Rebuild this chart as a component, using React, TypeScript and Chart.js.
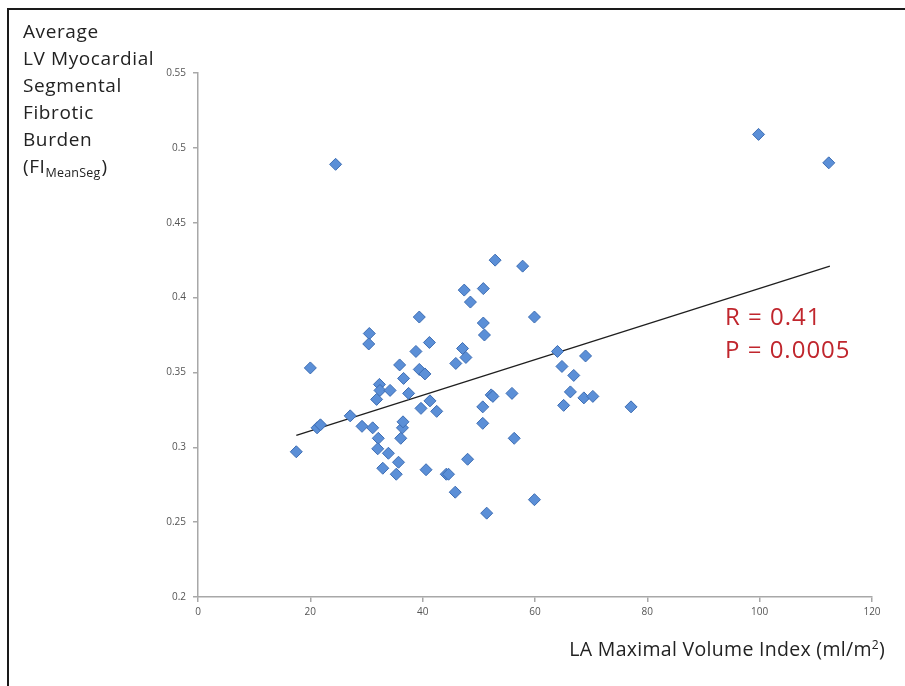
import React, { useEffect, useRef } from "react";
import { Chart, registerables } from "chart.js";

Chart.register(...registerables);

// ---- data ----
const xValues = [
  17.5, 20.0, 24.5, 21.2, 21.8, 27.1, 29.2, 30.5, 30.4, 31.1,
  31.8, 32.3, 32.4, 32.1, 32.0, 32.9, 33.9, 34.2, 35.3, 35.7,
  35.9, 36.1, 36.4, 36.5, 36.6, 37.5, 38.8, 39.4, 39.4, 39.7,
  40.4, 40.6, 41.2, 41.3, 42.5, 44.2, 44.6, 45.8, 45.9, 47.1,
  47.4, 47.7, 48.0, 48.5, 50.7, 50.7, 50.8, 50.8, 51.0, 51.4,
  52.2, 52.5, 52.9, 55.9, 56.3, 57.8, 59.9, 59.9, 64.0, 64.8,
  65.1, 66.3, 66.9, 68.7, 69.0, 70.3, 77.1, 99.8, 112.3,
];
const yValues = [
  0.297, 0.353, 0.489, 0.313, 0.315, 0.321, 0.314, 0.376, 0.369, 0.313,
  0.332, 0.342, 0.338, 0.306, 0.299, 0.286, 0.296, 0.338, 0.282, 0.29,
  0.355, 0.306, 0.313, 0.317, 0.346, 0.336, 0.364, 0.387, 0.352, 0.326,
  0.349, 0.285, 0.37, 0.331, 0.324, 0.282, 0.282, 0.27, 0.356, 0.366,
  0.405, 0.36, 0.292, 0.397, 0.327, 0.316, 0.406, 0.383, 0.375, 0.256,
  0.335, 0.334, 0.425, 0.336, 0.306, 0.421, 0.387, 0.265, 0.364, 0.354,
  0.328, 0.337, 0.348, 0.333, 0.361, 0.334, 0.327, 0.509, 0.49,
];
const trendX = [17.5, 112.5];
const trendY = [0.308, 0.421];

const xTickValues = [0, 20, 40, 60, 80, 100, 120];
const yTickLabels = ["0.2", "0.25", "0.3", "0.35", "0.4", "0.45", "0.5", "0.55"];

const yTitleLines = ["Average", "LV Myocardial", "Segmental", "Fibrotic", "Burden"];
const yTitleSubParts = ["(FI", "MeanSeg", ")"];
const xTitleMain = "LA Maximal Volume Index (ml/m";
const xTitleSup = "2";
const xTitleEnd = ")";
const statLines = ["R = 0.41", "P = 0.0005"];

const FONT = "'Open Sans', Lato, 'DejaVu Sans', sans-serif";

const decorPlugin = {
  id: "decor",
  afterDraw(chart: any) {
    const ctx = chart.ctx as any;
    ctx.save();
    // frame
    ctx.strokeStyle = "#1a1a1a";
    ctx.lineWidth = 2;
    ctx.beginPath();
    ctx.moveTo(8, 686);
    ctx.lineTo(8, 9);
    ctx.lineTo(905, 9);
    ctx.stroke();

    // y title
    ctx.fillStyle = "#222222";
    ctx.textAlign = "left";
    ctx.textBaseline = "alphabetic";
    ctx.letterSpacing = "0.6px";
    ctx.font = `19px ${FONT}`;
    const x0 = 23;
    yTitleLines.forEach((t: string, i: number) => {
      ctx.fillText(t, x0, 38 + i * 27);
    });
    const bl = 38 + 5 * 27;
    ctx.fillText(yTitleSubParts[0], x0, bl);
    let w = ctx.measureText(yTitleSubParts[0]).width;
    ctx.font = `12.5px ${FONT}`;
    ctx.letterSpacing = "0.2px";
    ctx.fillText(yTitleSubParts[1], x0 + w, bl + 4);
    w += ctx.measureText(yTitleSubParts[1]).width;
    ctx.font = `19px ${FONT}`;
    ctx.fillText(yTitleSubParts[2], x0 + w + 1, bl);

    // x title, right aligned at 885
    ctx.letterSpacing = "0.3px";
    ctx.font = `19.5px ${FONT}`;
    const wMain = ctx.measureText(xTitleMain).width;
    const wEnd = ctx.measureText(xTitleEnd).width;
    ctx.font = `12px ${FONT}`;
    const wSup = ctx.measureText(xTitleSup).width;
    const right = 885;
    const start = right - wEnd - wSup - wMain;
    const xb = 656;
    ctx.font = `19.5px ${FONT}`;
    ctx.fillText(xTitleMain, start, xb);
    ctx.font = `12px ${FONT}`;
    ctx.fillText(xTitleSup, start + wMain, xb - 7);
    ctx.font = `19.5px ${FONT}`;
    ctx.fillText(xTitleEnd, start + wMain + wSup, xb);

    // stats
    ctx.fillStyle = "#c0262d";
    ctx.letterSpacing = "1px";
    ctx.font = `24px ${FONT}`;
    ctx.fillText(statLines[0], 725, 325);
    ctx.fillText(statLines[1], 725, 358);
    ctx.letterSpacing = "0px";
    ctx.restore();
  },
};

export default function App() {
  const ref = useRef<HTMLCanvasElement | null>(null);
  useEffect(() => {
    if (!ref.current) return;
    const points = xValues.map((x, i) => ({ x, y: yValues[i] }));
    const trend = trendX.map((x, i) => ({ x, y: trendY[i] }));
    const chart = new Chart(ref.current, {
      type: "scatter",
      data: {
        datasets: [
          {
            label: "Trend",
            data: trend,
            showLine: true,
            borderColor: "#1f1f1f",
            borderWidth: 1.3,
            pointRadius: 0,
            order: 2,
          },
          {
            label: "Data",
            data: points,
            pointStyle: "rectRot",
            pointRadius: 6,
            backgroundColor: "#5b8fd7",
            borderColor: "#3d6db3",
            borderWidth: 1,
            order: 1,
          },
        ],
      },
      options: {
        responsive: false,
        animation: false,
        layout: { padding: { top: 73, right: 33, left: 0, bottom: 0 } },
        plugins: {
          legend: { display: false },
          tooltip: { enabled: false },
        },
        scales: {
          x: {
            type: "linear",
            min: 0,
            max: 120,
            afterFit: (s: any) => {
              s.height = 89;
            },
            afterBuildTicks: (s: any) => {
              s.ticks = xTickValues.map((v) => ({ value: v }));
            },
            ticks: {
              color: "#555555",
              font: { size: 10, family: FONT },
              padding: 4,
              maxRotation: 0,
              callback: (v: any) => String(v),
            },
            grid: {
              drawOnChartArea: false,
              drawTicks: true,
              tickLength: 5,
              color: "#a8a8a8",
              lineWidth: 1.5,
            },
            border: { color: "#a8a8a8", width: 1.5 },
          },
          y: {
            type: "linear",
            min: 0.2,
            max: 0.55,
            afterFit: (s: any) => {
              s.width = 198;
            },
            afterBuildTicks: (s: any) => {
              s.ticks = yTickLabels.map((t) => ({ value: parseFloat(t) }));
            },
            ticks: {
              color: "#555555",
              font: { size: 10, family: FONT },
              padding: 7,
              callback: (v: any, i: number) => yTickLabels[i] ?? String(v),
            },
            grid: {
              drawOnChartArea: false,
              drawTicks: true,
              tickLength: 5,
              color: "#a8a8a8",
              lineWidth: 1.5,
            },
            border: { color: "#a8a8a8", width: 1.5 },
          },
        },
      },
      plugins: [decorPlugin],
    });
    return () => chart.destroy();
  }, []);
  return (
    <div style={{ position: "fixed", left: 0, top: 0, width: 905, height: 686, background: "#ffffff" }}>
      <canvas ref={ref} width={905} height={686} style={{ display: "block" }} />
    </div>
  );
}
